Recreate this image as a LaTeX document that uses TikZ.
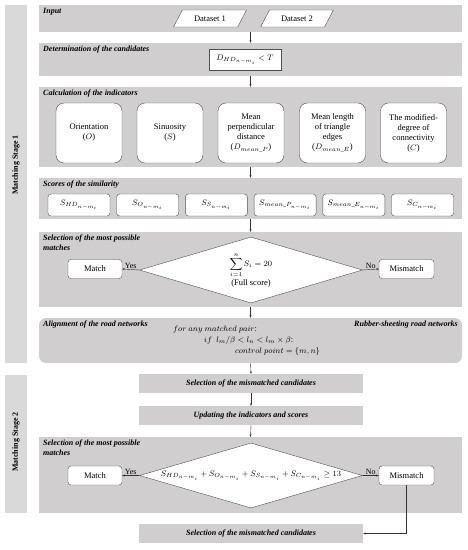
\documentclass[tikz,border=0pt]{standalone}
\usepackage{fontspec}
\setmainfont{Liberation Serif}
\usepackage{amsmath}
\usepackage{amssymb}
\usetikzlibrary{shapes.geometric,arrows.meta}
\definecolor{bandgray}{RGB}{208,206,206}
\definecolor{stagegray}{RGB}{217,217,217}
\definecolor{edgegray}{RGB}{80,80,80}
\tikzset{
    band/.style={fill=bandgray,minimum width=423pt,inner sep=0pt},
    narrowband/.style={band,minimum width=224pt,font=\fontsize{8}{9.5}\selectfont\bfseries\itshape},
    heading/.style={anchor=north west,inner sep=0pt,align=left,font=\fontsize{8}{9.5}\selectfont\bfseries\itshape},
    whitebox/.style={draw=edgegray,fill=white,rounded corners=3pt,inner sep=1pt,font=\fontsize{8.5}{10}\selectfont},
    indbox/.style={whitebox,rounded corners=8pt,minimum width=66pt,minimum height=60pt,align=center},
    scorebox/.style={whitebox,minimum width=62pt,minimum height=22pt},
    datain/.style={trapezium,trapezium left angle=55,trapezium right angle=125,trapezium stretches=true,
        draw=edgegray,fill=white,minimum width=73pt,minimum height=17pt,inner sep=1pt,font=\fontsize{8.5}{10}\selectfont},
    test/.style={diamond,draw=edgegray,fill=white,minimum width=223pt,minimum height=66pt,inner sep=0pt},
    testtext/.style={align=center,inner sep=0pt,font=\fontsize{8.5}{10}\selectfont},
    stagebar/.style={fill=stagegray,minimum width=22pt,inner sep=0pt},
    stagelabel/.style={rotate=90,font=\fontsize{8}{9.5}\selectfont\bfseries},
    flow/.style={-{Stealth[length=2.5pt,width=2pt]},line width=0.4pt,draw=black!80},
    answer/.style={font=\fontsize{8}{9}\selectfont,inner sep=1pt},
}
\newcommand{\nm}{n-m_i}

\begin{document}
\begin{tikzpicture}[x=1pt,y=-1pt]
    \useasboundingbox (0,0) rectangle (468,550);

    \node[stagebar,minimum height=358pt] (stage1) at (16,184) {};
    \node[stagelabel] (stage1lbl) at (16,165) {Matching Stage 1};
    \node[stagebar,minimum height=138pt] (stage2) at (16,444) {};
    \node[stagelabel] (stage2lbl) at (16,442) {Matching Stage 2};

    \node[band,minimum height=27pt] (input) at (250.5,18.5) {};
    \node[heading] (inputlbl) at (43,8) {Input};
    \node[datain] (data1) at (210,18.5) {Dataset 1};
    \node[datain] (data2) at (297,18.5) {Dataset 2};

    \node[band,minimum height=33pt] (cand) at (250.5,59.5) {};
    \node[heading] (candlbl) at (43,46) {Determination of the candidates};
    \node[whitebox,rounded corners=0pt,minimum width=72pt,minimum height=21pt] (hd) at (245,59.5) {$D_{HD_{\nm}} < T$};

    \node[band,minimum height=80pt] (calc) at (250.5,127) {};
    \node[heading] (calclbl) at (43,90) {Calculation of the indicators};
    \node[indbox] (ind1) at (89,133) {Orientation\\($O$)};
    \node[indbox] (ind2) at (170,133) {Sinuosity\\($S$)};
    \node[indbox] (ind3) at (251,133) {Mean\\perpendicular\\distance\\($D_{mean\_P}$)};
    \node[indbox] (ind4) at (332.5,133) {Mean length\\of triangle\\edges\\($D_{mean\_E}$)};
    \node[indbox] (ind5) at (413.5,133) {The modified-\\degree of\\connectivity\\($C$)};

    \node[band,minimum height=41pt] (scores) at (250.5,198.5) {};
    \node[heading] (scoreslbl) at (43,181) {Scores of the similarity};
    \foreach \sub [count=\k] in {HD,O,S,mean\_P,mean\_E,C}
        \node[scorebox] (score\k) at (79+68.7*\k-68.7,205) {$S_{\sub_{\nm}}$};

    \node[band,minimum height=75pt] (sel1) at (250.5,269.5) {};
    \node[heading] (sel1lbl) at (43,235) {Selection of the most possible\\matches};
    \node[test] (test1) at (251,270) {};
    \node[testtext] (test1txt) at (251,270) {$\displaystyle\sum_{i=1}^{n} S_i = 20$\\[1pt](Full score)};
    \node[whitebox,minimum width=54pt,minimum height=19pt] (match1) at (95,269) {Match};
    \node[whitebox,minimum width=55pt,minimum height=19pt] (mis1) at (406.5,269) {Mismatch};

    \node[band,rounded corners=7pt,minimum height=45pt] (align) at (250.5,340.5) {};
    \node[heading] (alignlbl) at (43,321) {Alignment of the road networks};
    \node[heading,anchor=north east] (rubberlbl) at (458,321) {Rubber-sheeting road networks};
    \node[anchor=north west,inner sep=0pt,align=left,font=\fontsize{8.5}{11}\selectfont] (rule) at (173,326)
        {$for\ any\ matched\ pair$:\\\hspace{31pt}$if\ \ l_m/\beta < l_n < l_m\times\beta$:\\\hspace{62pt}$control\ point = \{m,n\}$};

    \node[narrowband,minimum height=19pt] (missel1) at (251,383.5) {Selection of the mismatched candidates};
    \node[narrowband,minimum height=19pt] (update) at (251,415.5) {Updating the indicators and scores};

    \node[band,minimum height=76pt] (sel2) at (250.5,475) {};
    \node[heading] (sel2lbl) at (43,440) {Selection of the most possible\\matches};
    \node[test,minimum height=65pt] (test2) at (251,475.5) {};
    \node[testtext] (test2txt) at (251,475.5) {$S_{HD_{\nm}} + S_{O_{\nm}} + S_{S_{\nm}} + S_{C_{\nm}} \geq 13$};
    \node[whitebox,minimum width=54pt,minimum height=19pt] (match2) at (95,475.5) {Match};
    \node[whitebox,minimum width=55pt,minimum height=19pt] (mis2) at (406.5,475.5) {Mismatch};

    \node[narrowband,minimum height=19pt] (missel2) at (251,533.5) {Selection of the mismatched candidates};

    \draw[flow] (input.south) -- (cand.north);
    \draw[flow] (cand.south) -- (calc.north);
    \draw[flow] (calc.south) -- (scores.north);
    \draw[flow] (scores.south) -- (sel1.north);
    \draw[flow] (test1.west) -- node[answer,above] {Yes} (match1.east);
    \draw[flow] (test1.east) -- node[answer,above] {No} (mis1.west);
    \draw[flow] (sel1.south) -- (align.north);
    \draw[flow] (align.south) -- (missel1.north);
    \draw[flow] (missel1.south) -- (update.north);
    \draw[flow] (update.south) -- (sel2.north);
    \draw[flow] (test2.west) -- node[answer,above] {Yes} (match2.east);
    \draw[flow] (test2.east) -- node[answer,above] {No} (mis2.west);
    \draw[flow] (mis2.south) |- (missel2.east);
\end{tikzpicture}
\end{document}
